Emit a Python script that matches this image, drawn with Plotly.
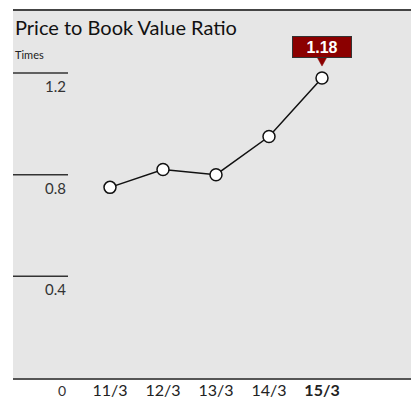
import plotly.graph_objects as go

# Price-to-book data (times)
periods = ["11/3", "12/3", "13/3", "14/3", "15/3"]
pbr = [0.75, 0.82, 0.80, 0.95, 1.18]
tick_labels = ["11/3", "12/3", "13/3", "14/3", "<b>15/3</b>"]
y_grid = [0.4, 0.8, 1.2]
y_grid_labels = ["0.4", "0.8", "1.2"]

W, H = 411, 403
L, R, T, B = 13, 0, 10, 25
font_main = "Lato"
x_idx = list(range(len(periods)))

fig = go.Figure()
fig.add_trace(go.Scatter(
    x=x_idx, y=pbr, mode="lines+markers",
    line=dict(color="#111111", width=1.5),
    marker=dict(size=12, color="white", line=dict(color="#111111", width=1.5)),
    hoverinfo="skip", showlegend=False, cliponaxis=False,
))

shapes = []
annotations = []

# short left-hand gridlines with their labels
grid_x1 = (68 - L) / (W - L - R)
for v, lab in zip(y_grid, y_grid_labels):
    shapes.append(dict(type="line", xref="paper", yref="y", x0=0, x1=grid_x1,
                       y0=v, y1=v, line=dict(color="#333333", width=1.5)))
    annotations.append(dict(xref="paper", yref="y", x=grid_x1, y=v, text=lab,
                            showarrow=False, xanchor="right", yanchor="top",
                            yshift=-2, font=dict(family=font_main, size=15, color="#333333")))

# zero label in the category row
annotations.append(dict(xref="paper", yref="paper", x=grid_x1, y=0, text="0",
                        showarrow=False, xanchor="right", yanchor="top", yshift=-2,
                        font=dict(family=font_main, size=14, color="#333333")))

# top border
shapes.append(dict(type="line", xref="paper", yref="paper", x0=0, x1=1, y0=1, y1=1,
                   line=dict(color="#444444", width=2)))

# title and unit
annotations.append(dict(xref="paper", yref="paper", x=0, y=1, text="Price to Book Value Ratio",
                        showarrow=False, xanchor="left", yanchor="top", yshift=-3,
                        font=dict(family=font_main, size=20, color="#111111")))
annotations.append(dict(xref="paper", yref="paper", x=0, y=1, text="Times",
                        showarrow=False, xanchor="left", yanchor="top", yshift=-36,
                        font=dict(family=font_main, size=11, color="#222222")))

# callout for the latest value
last_i = len(pbr) - 1
annotations.append(dict(xref="x", yref="y", x=x_idx[last_i], y=pbr[last_i],
                        text=f"<b>{pbr[last_i]:.2f}</b>", showarrow=False,
                        xanchor="center", yanchor="bottom", yshift=20,
                        width=58, height=20, borderpad=0, borderwidth=1,
                        bgcolor="#8b0000", bordercolor="#333333",
                        font=dict(family="Liberation Sans", size=16, color="white")))
shapes.append(dict(type="path", xref="x", yref="y", xsizemode="pixel", ysizemode="pixel",
                   xanchor=x_idx[last_i], yanchor=pbr[last_i],
                   path="M-5,21 L5,21 L0,12 Z", fillcolor="#8b0000",
                   line=dict(color="#8b0000", width=0.5)))

ytop = 1.2 * (H - B - T) / (378 - 73)
fig.update_layout(
    width=W, height=H,
    margin=dict(l=L, r=R, t=T, b=B),
    paper_bgcolor="white", plot_bgcolor="#e6e6e6",
    shapes=shapes, annotations=annotations,
    xaxis=dict(range=[-97 / 53, (W - L - R - 97) / 53], tickvals=x_idx, ticktext=tick_labels,
               showgrid=False, zeroline=False, showline=True, linecolor="#555555",
               linewidth=2, ticks="", fixedrange=True, ticklabelstandoff=-3,
               tickfont=dict(family=font_main, size=16, color="#222222")),
    yaxis=dict(range=[0, ytop], showgrid=False, zeroline=False, showticklabels=False,
               fixedrange=True),
)

fig.write_html("out.html")
